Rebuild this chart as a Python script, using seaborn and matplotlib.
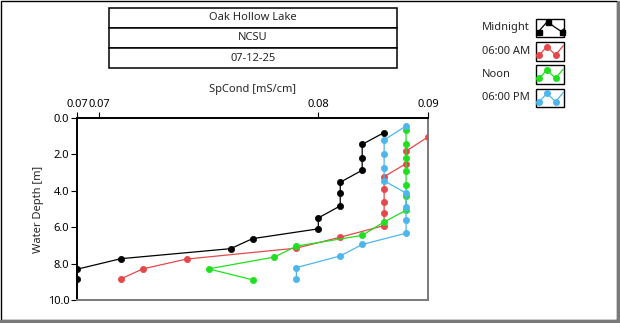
import matplotlib
matplotlib.use("Agg")
import matplotlib.pyplot as plt
from matplotlib.patches import Rectangle
from matplotlib.lines import Line2D
import seaborn as sns
import pandas as pd

# Profile readings: specific conductance against water depth
midnight_depth = [0.80, 1.45, 2.22, 2.87, 3.53, 4.12, 4.83, 5.49, 6.09, 6.63, 7.18, 7.73, 8.31, 8.87]
midnight_spcond = [0.083, 0.082, 0.082, 0.082, 0.081, 0.081, 0.081, 0.080, 0.080, 0.077, 0.076, 0.071, 0.069, 0.069]

am6_depth = [1.04, 1.82, 2.51, 3.22, 3.89, 4.59, 5.24, 5.91, 6.55, 7.15, 7.75, 8.29, 8.84]
am6_spcond = [0.085, 0.084, 0.084, 0.083, 0.083, 0.083, 0.083, 0.083, 0.081, 0.079, 0.074, 0.072, 0.071]

noon_depth = [0.65, 1.43, 2.18, 2.91, 3.67, 4.31, 5.07, 5.71, 6.45, 7.04, 7.64, 8.29, 8.89]
noon_spcond = [0.084, 0.084, 0.084, 0.084, 0.084, 0.084, 0.084, 0.083, 0.082, 0.079, 0.078, 0.075, 0.077]

pm6_depth = [0.44, 1.20, 1.96, 2.73, 3.45, 4.13, 4.91, 5.62, 6.33, 6.95, 7.58, 8.22, 8.84]
pm6_spcond = [0.084, 0.083, 0.083, 0.083, 0.083, 0.084, 0.084, 0.084, 0.084, 0.082, 0.081, 0.079, 0.079]

series_names = ["Midnight", "06:00 AM", "Noon", "06:00 PM"]
series_colors = ["#000000", "#E5484B", "#1EE01E", "#4DB6EC"]

header_lines = ["Oak Hollow Lake", "NCSU", "07-12-25"]

x_tick_values = [0.069, 0.070, 0.080, 0.085]
x_tick_labels = ["0.07", "0.07", "0.08", "0.09"]
y_tick_values = [0, 2, 4, 6, 8, 10]
y_tick_labels = ["0.0", "2.0", "4.0", "6.0", "8.0", "10.0"]

frames = []
for name, d, s in [("Midnight", midnight_depth, midnight_spcond),
                   ("06:00 AM", am6_depth, am6_spcond),
                   ("Noon", noon_depth, noon_spcond),
                   ("06:00 PM", pm6_depth, pm6_spcond)]:
    frames.append(pd.DataFrame({"series": name, "depth": d, "spcond": s}))
df = pd.concat(frames, ignore_index=True)

sns.set_style("white")
FONT = ["Noto Sans", "DejaVu Sans"]
plt.rcParams["font.family"] = FONT
plt.rcParams["font.size"] = 8

W, H = 620, 324
fig = plt.figure(figsize=(W / 100, H / 100), dpi=100)
fig.patch.set_facecolor("white")


def fx(px):
    return px / W


def fy(py):
    return 1 - py / H


ax = fig.add_axes([fx(77), fy(300), fx(428) - fx(77), fy(118) - fy(300)])

for name, color in zip(series_names, series_colors):
    sub = df[df["series"] == name]
    sns.lineplot(data=sub, x="spcond", y="depth", sort=False, estimator=None,
                 color=color, lw=0.9, marker="o", markersize=4.5,
                 markeredgecolor=color, markeredgewidth=0.5, ax=ax, legend=False)

ax.set_xlim(0.069, 0.085)
ax.set_ylim(10, 0)
ax.xaxis.tick_top()
ax.xaxis.set_label_position("top")
ax.set_xticks(x_tick_values)
ax.set_xticklabels(x_tick_labels)
ax.set_yticks(y_tick_values)
ax.set_yticklabels(y_tick_labels)
ax.tick_params(axis="both", which="both", direction="out", length=4, width=0.8,
               colors="black", labelsize=8, pad=1.5)
ax.tick_params(axis="x", top=True, bottom=False)
ax.tick_params(axis="y", left=True, right=False)
ax.set_xlabel("SpCond [mS/cm]", fontsize=8, labelpad=5)
ax.set_ylabel("Water Depth [m]", fontsize=8, labelpad=3)

for side, color, lw in [("left", "black", 1.4), ("top", "black", 1.4),
                        ("right", "#7A7A7A", 1.4), ("bottom", "#7A7A7A", 1.4)]:
    ax.spines[side].set_visible(True)
    ax.spines[side].set_color(color)
    ax.spines[side].set_linewidth(lw)

# Header boxes above the plot
row_tops = [8, 28, 48.5]
row_h = 19.5
for top, text in zip(row_tops, header_lines):
    fig.patches.append(Rectangle((fx(109), fy(top + row_h)), fx(397) - fx(109),
                                 fy(top) - fy(top + row_h), transform=fig.transFigure,
                                 facecolor="white", edgecolor="black", lw=1.1))
    fig.text(fx(253), fy(top + row_h / 2), text, ha="center", va="center", fontsize=8)

# Legend with boxed sample icons (offsets in pixels from each box's top-left)
icon_left, icon_w, icon_h = 536, 28, 18.5
icon_tops = [18.5, 42, 65.3, 88.7]
zigzag_line = [(1, 16), (3.3, 13), (11, 4.5), (19.5, 13), (27.5, 3.5)]
zigzag_marks = [1, 2, 3]
peak_line = [(0.8, 16), (2.5, 13), (11.5, 3), (18.5, 8.5), (25.5, 13), (27.5, 10.5)]
peak_marks = [1, 2, 4]
for i, (name, color, top) in enumerate(zip(series_names, series_colors, icon_tops)):
    fig.text(fx(482), fy(top + icon_h / 2), name, ha="left", va="center", fontsize=8)
    fig.patches.append(Rectangle((fx(icon_left), fy(top + icon_h)), fx(icon_w),
                                 fy(top) - fy(top + icon_h), transform=fig.transFigure,
                                 facecolor="white", edgecolor="black", lw=1.0))
    pts, mk = (peak_line, peak_marks) if i == 0 else (zigzag_line, zigzag_marks)
    xs = [fx(icon_left + p[0]) for p in pts]
    ys = [fy(top + p[1]) for p in pts]
    fig.lines.append(Line2D(xs, ys, transform=fig.transFigure, color=color, lw=0.9))
    fig.lines.append(Line2D([xs[k] for k in mk], [ys[k] for k in mk],
                            transform=fig.transFigure, color=color, lw=0,
                            marker="s" if i == 0 else "o",
                            markersize=3.6 if i == 0 else 4.0))

# Panel frame: dark top/left edge, grey shadow on right/bottom
fig.patches.append(Rectangle((fx(0.5), fy(320)), fx(617) - fx(0.5), fy(1) - fy(320),
                             transform=fig.transFigure, facecolor="none",
                             edgecolor="black", lw=1.0))
fig.patches.append(Rectangle((fx(617), fy(323)), fx(620) - fx(617), fy(1) - fy(323),
                             transform=fig.transFigure, facecolor="#7A7A7A", lw=0))
fig.patches.append(Rectangle((fx(0), fy(323)), fx(620) - fx(0), fy(320) - fy(323),
                             transform=fig.transFigure, facecolor="#7A7A7A", lw=0))

fig.savefig("out.png", dpi=100, facecolor="white")
